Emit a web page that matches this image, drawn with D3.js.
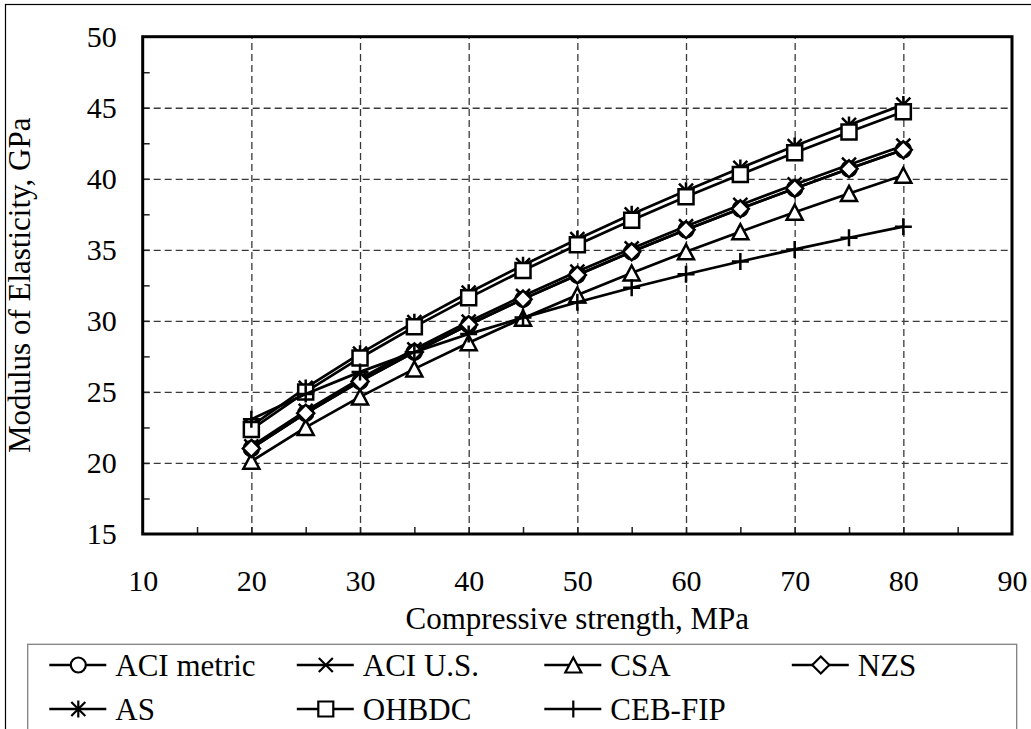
<!DOCTYPE html>
<html>
<head>
<script src="https://cdn.jsdelivr.net/npm/d3@7"></script>
<style>
  html, body { margin: 0; padding: 0; background: #fff; }
  svg { display: block; }
  text { font-family: "Liberation Serif", "Times New Roman", Times, "DejaVu Serif", serif; fill: #000; }
</style>
</head>
<body>
<script>

var w = 1031;
var h = 729;

// compressive strength, MPa
var strength = [20, 25, 30, 35, 40, 45, 50, 55, 60, 65, 70, 75, 80];

// modulus of elasticity, GPa
var aciMetric = [21.02, 23.50, 25.74, 27.81, 29.73, 31.53, 33.23, 34.86, 36.41, 37.89, 39.32, 40.70, 42.04];
var aciUS     = [21.17, 23.67, 25.93, 28.00, 29.94, 31.75, 33.47, 35.10, 36.66, 38.16, 39.60, 40.99, 42.33];
var csa       = [20.12, 22.50, 24.65, 26.62, 28.46, 30.19, 31.82, 33.37, 34.86, 36.28, 37.65, 38.97, 40.25];
var nzs       = [21.02, 23.50, 25.74, 27.81, 29.73, 31.53, 33.23, 34.86, 36.41, 37.89, 39.32, 40.70, 42.04];
var as        = [22.61, 25.28, 27.69, 29.91, 31.98, 33.92, 35.75, 37.50, 39.16, 40.76, 42.30, 43.79, 45.22];
var ohbdc     = [22.36, 25.00, 27.39, 29.58, 31.62, 33.54, 35.36, 37.08, 38.73, 40.31, 41.83, 43.30, 44.72];
var cebFip    = [23.07, 24.85, 26.41, 27.80, 29.07, 30.23, 31.31, 32.33, 33.28, 34.18, 35.03, 35.85, 36.63];

var seriesNames   = ["ACI metric", "ACI U.S.", "CSA", "NZS", "AS", "OHBDC", "CEB-FIP"];
var seriesValues  = [aciMetric, aciUS, csa, nzs, as, ohbdc, cebFip];
var seriesMarkers = ["circle", "x", "triangle", "diamond", "asterisk", "square", "plus"];

var xTicks  = [10, 20, 30, 40, 50, 60, 70, 80, 90];
var yTicks  = [15, 20, 25, 30, 35, 40, 45, 50];
var xGrid   = [20, 30, 40, 50, 60, 70, 80];
var yGrid   = [20, 25, 30, 35, 40, 45];
var xMinor  = [15, 20, 25, 30, 35, 40, 45, 50, 55, 60, 65, 70, 75, 80, 85];
var yMinor  = [17.5, 20, 22.5, 25, 27.5, 30, 32.5, 35, 37.5, 40, 42.5, 45, 47.5];

var plotL = 142.7, plotR = 1012, plotT = 36.7, plotB = 534;

var svg = d3.select("body").append("svg").attr("width", w).attr("height", h);

// chart frame (runs off the picture to the right and bottom)
svg.append("rect")
  .attr("x", 5.5).attr("y", 4.5)
  .attr("width", w + 20).attr("height", h + 20)
  .attr("fill", "#fff").attr("stroke", "#000").attr("stroke-width", 1.2);

var x = d3.scaleLinear().domain([10, 90]).range([plotL, plotR]);
var y = d3.scaleLinear().domain([15, 50]).range([plotB, plotT]);

// dashed gridlines
svg.append("g")
  .attr("transform", "translate(0," + plotB + ")")
  .call(d3.axisBottom(x).tickValues(xGrid).tickSize(-(plotB - plotT)).tickFormat(""))
  .call(function(g){ g.select(".domain").remove(); })
  .selectAll("line")
  .attr("stroke", "#3a3a3a").attr("stroke-width", 1.3).attr("stroke-dasharray", "7,4");

svg.append("g")
  .attr("transform", "translate(" + plotL + ",0)")
  .call(d3.axisLeft(y).tickValues(yGrid).tickSize(-(plotR - plotL)).tickFormat(""))
  .call(function(g){ g.select(".domain").remove(); })
  .selectAll("line")
  .attr("stroke", "#3a3a3a").attr("stroke-width", 1.3).attr("stroke-dasharray", "7,4");

// inward tick marks
svg.append("g")
  .attr("transform", "translate(0," + plotB + ")")
  .call(d3.axisBottom(x).tickValues(xMinor).tickSize(-7).tickFormat(""))
  .call(function(g){ g.select(".domain").remove(); })
  .selectAll("line").attr("stroke", "#222").attr("stroke-width", 1.5);

svg.append("g")
  .attr("transform", "translate(" + plotL + ",0)")
  .call(d3.axisLeft(y).tickValues(yMinor).tickSize(-7).tickFormat(""))
  .call(function(g){ g.select(".domain").remove(); })
  .selectAll("line").attr("stroke", "#222").attr("stroke-width", 1.5);

// plot border
svg.append("rect")
  .attr("x", plotL).attr("y", plotT)
  .attr("width", plotR - plotL).attr("height", plotB - plotT)
  .attr("fill", "none").attr("stroke", "#000").attr("stroke-width", 3);

// tick labels
var xAxis = svg.append("g")
  .attr("transform", "translate(0," + plotB + ")")
  .call(d3.axisBottom(x).tickValues(xTicks).tickSize(0).tickPadding(36));
xAxis.select(".domain").remove();
xAxis.selectAll("text").attr("font-size", "30px").attr("font-family", null);

var yAxis = svg.append("g")
  .attr("transform", "translate(" + plotL + ",0)")
  .call(d3.axisLeft(y).tickValues(yTicks).tickSize(0).tickPadding(26));
yAxis.select(".domain").remove();
yAxis.selectAll("text").attr("font-size", "30px").attr("font-family", null);

// axis titles
svg.append("text")
  .attr("x", (plotL + plotR) / 2).attr("y", 629)
  .attr("text-anchor", "middle").attr("font-size", "31px")
  .text("Compressive strength, MPa");

svg.append("text")
  .attr("transform", "translate(29.5," + (plotT + plotB) / 2 + ") rotate(-90)")
  .attr("text-anchor", "middle").attr("font-size", "31px")
  .text("Modulus of Elasticity, GPa");

// marker shapes
function markerPath(type) {
  switch (type) {
    case "circle":   return "M-7.5,0A7.5,7.5 0 1 0 7.5,0A7.5,7.5 0 1 0 -7.5,0Z";
    case "square":   return "M-7.5,-7.5H7.5V7.5H-7.5Z";
    case "triangle": return "M0,-7.5L8,7.5H-8Z";
    case "diamond":  return "M0,-8.5L8.5,0L0,8.5L-8.5,0Z";
    case "x":        return "M-7,-7L7,7M-7,7L7,-7";
    case "asterisk": return "M-7,-7L7,7M-7,7L7,-7M0,-8.5V8.5";
    case "plus":     return "M-8.5,0H8.5M0,-8.5V8.5";
  }
}
function markerFill(type) {
  return (type == "x" || type == "asterisk" || type == "plus") ? "none" : "#fff";
}

var line = d3.line()
  .x(function(d, i){ return x(strength[i]); })
  .y(function(d){ return y(d); });

seriesValues.forEach(function(vals, s) {
  var g = svg.append("g");
  g.append("path")
    .attr("d", line(vals))
    .attr("fill", "none").attr("stroke", "#000").attr("stroke-width", 2.7);
  g.selectAll("path.mk")
    .data(vals)
    .enter()
    .append("path")
    .attr("class", "mk")
    .attr("d", markerPath(seriesMarkers[s]))
    .attr("transform", function(d, i){ return "translate(" + x(strength[i]) + "," + y(d) + ")"; })
    .attr("fill", markerFill(seriesMarkers[s]))
    .attr("stroke", "#000").attr("stroke-width", 2.5);
});

// legend
svg.append("rect")
  .attr("x", 27.7).attr("y", 644.3)
  .attr("width", 989).attr("height", 120)
  .attr("fill", "#fff").attr("stroke", "#808080").attr("stroke-width", 1.3);

var legend = svg.selectAll("g.legend")
  .data(seriesNames)
  .enter()
  .append("g")
  .attr("class", "legend")
  .attr("transform", function(d, i){
    return "translate(" + (49.3 + (i % 4) * 247.5) + "," + (665 + Math.floor(i / 4) * 44) + ")";
  });

legend.append("line")
  .attr("x1", 0).attr("x2", 57).attr("y1", 0).attr("y2", 0)
  .attr("stroke", "#000").attr("stroke-width", 2.4);

legend.append("path")
  .attr("transform", "translate(29,0)")
  .attr("d", function(d, i){ return markerPath(seriesMarkers[i]); })
  .attr("fill", function(d, i){ return markerFill(seriesMarkers[i]); })
  .attr("stroke", "#000").attr("stroke-width", 2.2);

legend.append("text")
  .attr("x", 66).attr("y", 0).attr("dy", "0.34em")
  .attr("font-size", "31px")
  .text(function(d){ return d; });

</script>
</body>
</html>
